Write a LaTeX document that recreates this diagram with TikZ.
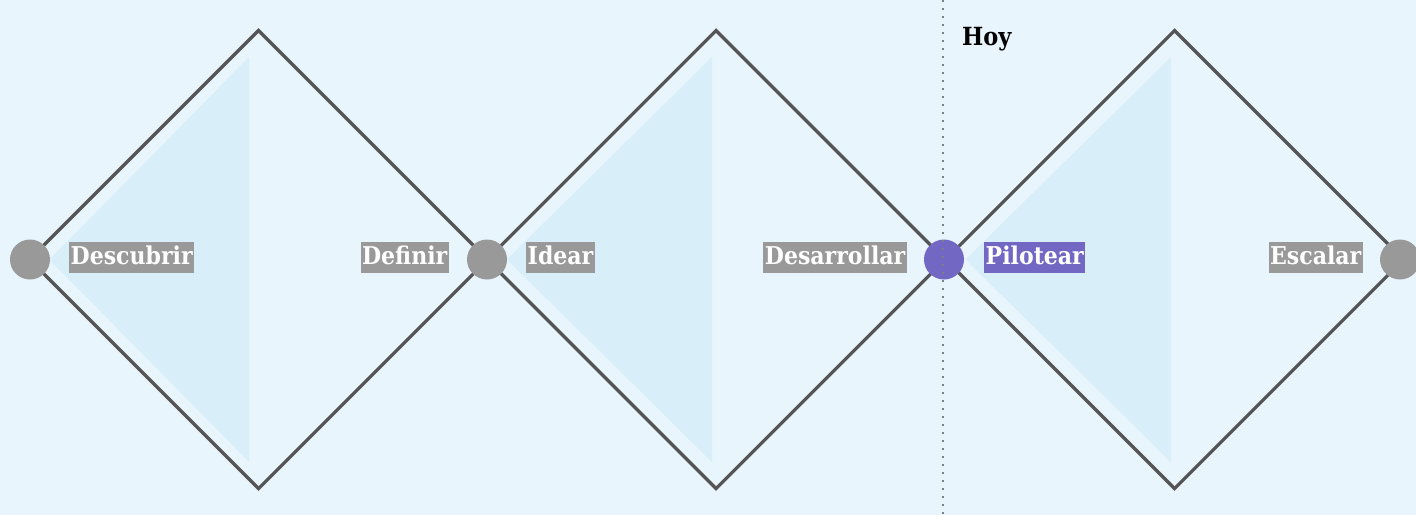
\documentclass[tikz,border=0pt]{standalone}
\usepackage{fontspec}
\setmainfont{DejaVu Serif Condensed}
\usetikzlibrary{calc}
\definecolor{bgc}{HTML}{E8F5FC}
\definecolor{tric}{HTML}{D8EEF9}
\definecolor{linec}{HTML}{555555}
\definecolor{grayc}{HTML}{999999}
\definecolor{purc}{HTML}{7367C4}
\definecolor{dotc}{HTML}{7A7F85}
\begin{document}
\begin{tikzpicture}[x=1pt,y=-1pt,
  dia/.style={draw=linec,line width=3.2pt,line join=miter},
  tri/.style={fill=tric,draw=none},
  dot/.style={circle,fill=grayc,draw=none,minimum size=40pt,inner sep=0pt},
  lab/.style={fill=grayc,text=white,font=\bfseries\fontsize{24.5}{25}\selectfont,
    inner xsep=1.5pt,inner ysep=3pt,text height=19pt,text depth=6pt},
  hoy/.style={font=\bfseries\fontsize{25}{25}\selectfont,text=black,inner sep=0pt}]
\fill[bgc] (0,0) rectangle (1416,515);
\useasboundingbox (0,0) rectangle (1416,515);
% triangles
\foreach \cx/\rx in {258.5/249,716/712,1174.5/1171}{
  \fill[tric] ({\cx-209},259.5) -- (\rx,57) -- (\rx,462) -- cycle;
}
% diamonds
\foreach \cx in {258.5,716,1174.5}{
  \draw[dia] ({\cx-229},259.5) -- (\cx,30.5) -- ({\cx+229},259.5) -- (\cx,488.5) -- cycle;
}
% today line
\coordinate (t1) at (943,0);
\coordinate (t2) at (943,515);
\draw[dotc,line width=2pt,dash pattern=on 2pt off 6pt] (t1) -- (t2);
\node[hoy,anchor=west] (hoy) at (962,39) {Hoy};
% circles
\node[dot] (c1) at (30,259.5) {};
\node[dot] (c2) at (487,259.5) {};
\node[dot,fill=purc] (c3) at (944,259.5) {};
\node[dot] (c4) at (1400,259.5) {};
\draw[dotc,line width=2pt,dash pattern=on 2pt off 6pt] (943,240) -- (943,280);
% labels
\node[lab,anchor=west] (l1) at (69,257.5) {Descubrir};
\node[lab,anchor=east] (l2) at (449,257.5) {Definir};
\node[lab,anchor=west] (l3) at (526,257.5) {Idear};
\node[lab,anchor=east] (l4) at (907,257.5) {Desarrollar};
\node[lab,anchor=west,fill=purc] (l5) at (984,257.5) {Pilotear};
\node[lab,anchor=east] (l6) at (1363,257.5) {Escalar};
\end{tikzpicture}
\end{document}
